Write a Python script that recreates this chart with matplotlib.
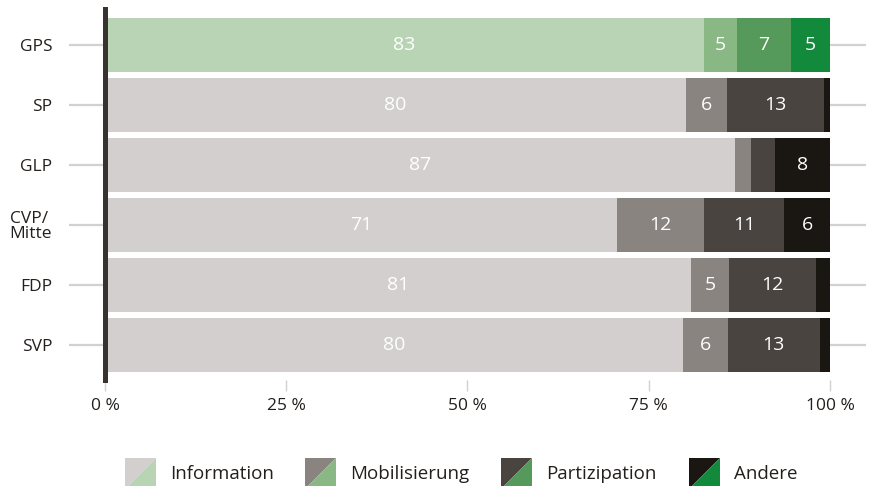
import matplotlib

matplotlib.use("Agg")
import matplotlib.pyplot as plt
import numpy as np
from matplotlib.patches import Polygon

plt.rcParams["font.family"] = ["Open Sans", "DejaVu Sans"]

# data (share of posts in %)
parties = ["GPS", "SP", "GLP", "CVP/\nMitte", "FDP", "SVP"]
categories = ["Information", "Mobilisierung", "Partizipation", "Andere"]
information = [82.6, 80.1, 86.9, 70.6, 80.8, 79.7]
mobilisierung = [4.6, 5.7, 2.2, 12.0, 5.3, 6.2]
partizipation = [7.4, 13.4, 3.3, 11.1, 12.0, 12.7]
andere = [5.4, 0.8, 7.6, 6.3, 1.9, 1.4]
highlight = "GPS"
xticks = [0, 25, 50, 75, 100]
xticklabels = ["0 %", "25 %", "50 %", "75 %", "100 %"]

GREYS = ["#d3cfce", "#8a8480", "#4a4440", "#1a1612"]
GREENS = ["#b9d4b5", "#8ab884", "#559a5a", "#138a3b"]
TICK_GREY = "#d3d0cf"
TEXT = "#231f1c"

W, H = 869, 486
fig = plt.figure(figsize=(W / 100, H / 100), dpi=100)
ax = fig.add_axes([105 / W, 1 - 380 / H, (830 - 105) / W, (380 - 9) / H])

series = [information, mobilisierung, partizipation, andere]
y = np.arange(len(parties))
left = np.zeros(len(parties))
for ci, vals in enumerate(series):
    vals = np.asarray(vals)
    colors = [GREENS[ci] if p == highlight else GREYS[ci] for p in parties]
    ax.barh(y, vals, left=left, height=0.9, color=colors, linewidth=0, zorder=2)
    for yi, (l, v) in enumerate(zip(left, vals)):
        if v >= 4:
            ax.text(l + v / 2, yi, f"{round(v)}", ha="center", va="center",
                    color="white", fontsize=14, zorder=3)
    left += vals

ax.set_xlim(0, 100)
ax.set_ylim(len(parties) - 1 + 0.583, -0.6)

ax.set_yticks(y, parties, fontsize=12.5, color=TEXT, linespacing=0.95)
for lbl in ax.get_yticklabels():
    lbl.set_multialignment("left")
ax.set_xticks(xticks, xticklabels, fontsize=12.5, color=TEXT)
ax.tick_params(axis="y", which="both", left=True, right=True, length=26, width=1.6,
               color=TICK_GREY, pad=12)
ax.tick_params(axis="x", length=8, width=1, color=TICK_GREY, pad=5)

for s in ["top", "right", "bottom"]:
    ax.spines[s].set_visible(False)
ax.spines["left"].set_linewidth(3.6)
ax.spines["left"].set_color("#38332f")
ax.spines["left"].set_zorder(4)

# legend with diagonally split swatches (grey / green)
lax = fig.add_axes([0, 0, 1, 1], zorder=5)
lax.set_xlim(0, W)
lax.set_ylim(H, 0)
lax.axis("off")
sw_x = [125, 305, 501, 689]
top, bot, sw = 458, 489, 31
for x0, cat, g, gr in zip(sw_x, categories, GREYS, GREENS):
    lax.add_patch(Polygon([(x0, top), (x0 + sw, top), (x0, bot)], closed=True,
                          facecolor=g, edgecolor="none"))
    lax.add_patch(Polygon([(x0 + sw, top), (x0 + sw, bot), (x0, bot)], closed=True,
                          facecolor=gr, edgecolor="none"))
    lax.text(x0 + sw + 14, 474, cat, ha="left", va="center", fontsize=13.5, color=TEXT)

fig.savefig("out.png", dpi=100)
